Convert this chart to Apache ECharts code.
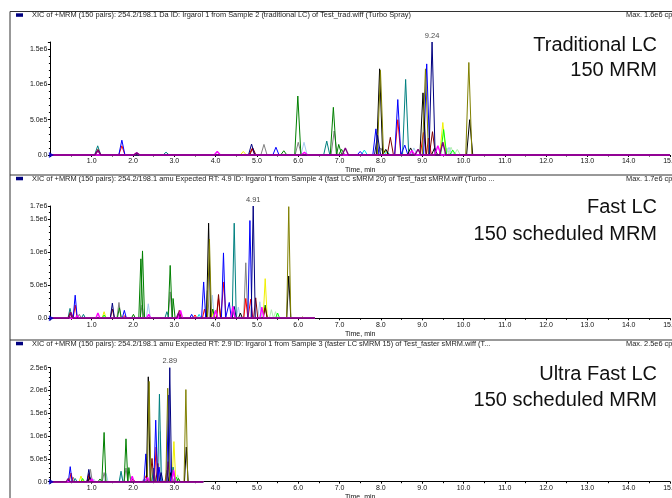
<!DOCTYPE html>
<html><head><meta charset="utf-8">
<script src="https://cdn.jsdelivr.net/npm/echarts@6/dist/echarts.min.js"></script>
<style>html,body{margin:0;padding:0;background:#fff}#c{width:672px;height:498px}</style>
</head><body><div id="c"></div>
<script>
// ---------- DATA (retention time, min ; intensity, cps) ----------
const xTicks = [0,1,2,3,4,5,6,7,8,9,10,11,12,13,14,15];
const panelTitles = [
  "XIC of +MRM (150 pairs): 254.2/198.1 Da ID: Irgarol 1 from Sample 2 (traditional LC) of Test_trad.wiff (Turbo Spray)",
  "XIC of +MRM (150 pairs): 254.2/198.1 amu Expected RT: 4.9 ID: Irgarol 1 from Sample 4 (fast LC sMRM 20) of Test_fast sMRM.wiff (Turbo ...",
  "XIC of +MRM (150 pairs): 254.2/198.1 amu Expected RT: 2.9 ID: Irgarol 1 from Sample 3 (faster LC sMRM 15) of Test_faster sMRM.wiff (T..."
];
const panelMaxText = ["Max. 1.6e6 cps.", "Max. 1.7e6 cps.", "Max. 2.5e6 cps."];
const panelLabels = ["Traditional LC\n150 MRM", "Fast LC\n150 scheduled MRM", "Ultra Fast LC\n150 scheduled MRM"];
const yMax = [1.6e6, 1.7e6, 2.5e6];
const apexRT = [9.24, 4.91, 2.89];
const runEnd = [15, 6.4, 3.7];

// Traditional LC
const trad_blue = [[1.73,2.1e5],[5.46,1.1e5],[7.5,5e4],[7.88,3.7e5],[8.41,7.85e5],[8.58,1.4e5],[9.11,1.29e6]];
const trad_navy = [[4.87,1.55e5],[7.92,2.8e5],[9.24,1.6e6]];
const trad_red = [[1.73,1.3e5],[4.88,9e4],[8.41,5e5],[9.03,3.2e5],[9.15,2.4e5]];
const trad_maroon = [[1.15,8e4],[4.9,1.0e5],[8.23,2.5e5],[9.25,3.3e5]];
const trad_green = [[5.65,6e4],[5.99,8.35e5],[6.85,6.75e5],[6.98,1.5e5],[7.05,8e4]];
const trad_teal = [[1.145,1.3e5],[2.8,4e4],[6.69,1.97e5],[8.6,1.07e6]];
const trad_black = [[7.97,1.22e6],[8.12,8e4],[8.72,1e5],[9.02,8.8e5],[9.3,1e5],[10.15,5e5]];
const trad_olive = [[7.99,1.2e6],[9.08,1.22e6],[10.13,1.31e6]];
const trad_gray = [[5.17,1.5e5],[6.0,1.8e5],[6.87,3.4e5],[8.0,1.0e5]];
const trad_lightblue = [[6.14,1.8e5],[8.8,1e5],[9.65,1.1e5]];
const trad_yellow = [[4.67,5e4],[8.1,6e4],[9.5,4.6e5]];
const trad_lime = [[9.52,3.6e5],[9.74,7e4]];
const trad_cyan = [[7.6,7e4],[8.15,5e4]];
const trad_lightgreen = [[9.6,1.0e5],[9.7,1.1e5],[9.85,8e4]];
const trad_magenta = [[2.09,3e4],[4.04,5e4],[6.15,4e4],[8.75,6e4],[9.38,1.3e5]];
const trad_purple = [[1.15,6e4],[2.09,3e4],[7.14,1.0e5],[8.9,8e4],[9.5,1.8e5]];

// Fast LC
const fast_blue = [[0.6,3.5e5],[1.79,1.2e5],[3.42,6e4],[3.71,5.5e5],[4.19,9.9e5],[4.33,2.4e5],[4.83,1.48e6]];
const fast_navy = [[1.5,2.3e5],[4.45,1.8e5],[4.91,1.7e6]];
const fast_red = [[0.6,2e5],[1.8,4e4],[3.5,5e4],[3.73,1.4e5],[4.07,3e5],[4.2,5.5e5],[4.73,3e5],[4.85,2.9e5]];
const fast_maroon = [[0.48,9e4],[1.5,1.4e5],[3.12,1.2e5],[4.07,3.6e5],[4.97,3.1e5],[5.2,1.6e5]];
const fast_green = [[1.67,1.6e5],[2.01,6e4],[2.19,9e5],[2.23,1.02e6],[2.9,8e5],[2.97,3e5],[3.93,1.4e5],[5.2,2e5]];
const fast_teal = [[0.475,1.5e5],[0.8,6e4],[2.82,1e5],[4.45,1.44e6]];
const fast_black = [[3.83,1.44e6],[4.6,8e4],[5.77,6.4e5]];
const fast_olive = [[3.85,1.2e6],[5.77,1.69e6],[6.1,2e4]];
const fast_gray = [[0.7,6e4],[1.66,2.4e5],[2.22,2e5],[2.9,4e5],[3.8,4.2e5],[4.42,1.5e5],[4.73,8.4e5]];
const fast_lightblue = [[2.37,2.2e5],[3.92,3.5e5],[4.55,1.7e5],[5.07,2.5e5]];
const fast_yellow = [[1.3,1e5],[3.95,1.2e5],[5.2,6e5]];
const fast_lime = [[1.3,5e4],[5.5,8e4]];
const fast_cyan = [[3.6,6e4],[4.0,1.2e5]];
const fast_lightgreen = [[5.35,1.3e5],[5.45,1e5]];
const fast_magenta = [[0.65,4e4],[1.15,8e4],[2.38,6e4],[3.15,1.2e5],[4.0,1.2e5],[4.42,1.8e5],[5.12,1.7e5]];
const fast_purple = [[0.5,9e4],[3.1,8e4]];

// Ultra Fast LC
const ultra_blue = [[0.48,3.3e5],[2.31,6.1e5],[2.55,1.35e6],[2.63,3.2e5],[2.86,1.9e6]];
const ultra_navy = [[0.93,2.7e5],[2.68,2e5],[2.89,2.5e6]];
const ultra_red = [[0.5,1.9e5],[0.93,1.3e5],[2.2,3e4],[2.33,1.5e5],[2.56,7.6e5],[2.85,4.4e5]];
const ultra_maroon = [[0.93,1.8e5],[2.0,6e4],[2.46,5.1e5],[2.6,4e5],[2.82,2.5e5]];
const ultra_green = [[1.2,6e4],[1.3,1.08e6],[1.83,9.4e5],[1.9,3.1e5],[3.1,7e4]];
const ultra_teal = [[0.6,7e4],[1.71,2.3e5],[2.5,3e5],[2.64,1.92e6],[2.97,3.2e5]];
const ultra_black = [[0.95,1e5],[2.37,2.3e6],[2.9,2e5],[3.29,7.6e5]];
const ultra_olive = [[2.39,2.2e6],[2.84,2.05e6],[3.28,2.02e6],[3.55,3e4]];
const ultra_gray = [[0.55,1e5],[0.97,2.7e5],[1.3,2e5],[1.83,3e5],[2.5,3e5],[2.95,1e5]];
const ultra_lightblue = [[1.05,6e4],[1.35,1.8e5],[1.72,1.5e5],[2.25,5e4],[2.66,1.1e6]];
const ultra_yellow = [[0.74,1.25e5],[2.99,8.8e5]];
const ultra_lime = [[0.78,7e4],[3.05,1e5]];
const ultra_cyan = [[2.3,5e4]];
const ultra_lightgreen = [[3.08,1.5e5]];
const ultra_magenta = [[1.0,6e4],[1.3,4e4],[1.98,1.2e5],[2.35,1e5],[2.98,2.6e5]];
const ultra_purple = [[0.43,7e4]];

// ---------- STYLE ----------
const colorOf = {
  lightgreen:'#b0f0b0', lightblue:'#a6caf0', gray:'#808080', yellow:'#f0f000', lime:'#00ff00', cyan:'#00e0e0',
  green:'#008000', teal:'#008080', red:'#ff0000', maroon:'#800000', blue:'#0000ff', black:'#000000',
  olive:'#808000', navy:'#000080', magenta:'#ff00ff', purple:'#800080'
};
const order = ['lightgreen','lightblue','gray','yellow','lime','cyan','green','teal','red','maroon','blue','black','olive','navy','magenta','purple'];
const panels = [
  {lightgreen:trad_lightgreen, lightblue:trad_lightblue, gray:trad_gray, yellow:trad_yellow, lime:trad_lime, cyan:trad_cyan, green:trad_green, teal:trad_teal, red:trad_red, maroon:trad_maroon, blue:trad_blue, black:trad_black, olive:trad_olive, navy:trad_navy, magenta:trad_magenta, purple:trad_purple},
  {lightgreen:fast_lightgreen, lightblue:fast_lightblue, gray:fast_gray, yellow:fast_yellow, lime:fast_lime, cyan:fast_cyan, green:fast_green, teal:fast_teal, red:fast_red, maroon:fast_maroon, blue:fast_blue, black:fast_black, olive:fast_olive, navy:fast_navy, magenta:fast_magenta, purple:fast_purple},
  {lightgreen:ultra_lightgreen, lightblue:ultra_lightblue, gray:ultra_gray, yellow:ultra_yellow, lime:ultra_lime, cyan:ultra_cyan, green:ultra_green, teal:ultra_teal, red:ultra_red, maroon:ultra_maroon, blue:ultra_blue, black:ultra_black, olive:ultra_olive, navy:ultra_navy, magenta:ultra_magenta, purple:ultra_purple}
];
const halfWidth = [0.075, 0.05, 0.045];
const grids = [{top:42, h:113}, {top:206, h:112.3}, {top:367.7, h:114}];
const sepY = [11.5, 175, 340];
const FONT = '"Liberation Sans", Arial, sans-serif';

function peakLine(peaks, hw, end) {
  const s = peaks.slice().sort((a,b)=>a[0]-b[0]);
  const pts = [[0,0]];
  s.forEach(p => { pts.push([p[0]-hw,0],[p[0],p[1]],[p[0]+hw,0]); });
  pts.push([end,0]);
  return pts;
}
function yFmt(v, max, hideMax) {
  if (v === 0) return '0.0';
  if (hideMax && Math.abs(v-max) < 1) return '';
  const e = Math.floor(Math.log10(v) + 1e-9);
  return (v/Math.pow(10,e)).toFixed(1) + 'e' + e;
}

const grid = [], xAxis = [], yAxis = [], series = [], graphic = [];
grids.forEach((g,i) => {
  grid.push({left:50.4, right:2, top:g.top, height:g.h, containLabel:false, outerBoundsMode:'none'});
  xAxis.push({
    type:'value', gridIndex:i, min:xTicks[0], max:xTicks[xTicks.length-1], interval:1,
    name:'Time, min', nameLocation:'middle', nameGap:12,
    nameTextStyle:{fontFamily:FONT, fontSize:7, color:'#111'},
    axisLine:{lineStyle:{color:'#000', width:1}},
    axisTick:{show:true, length:2, lineStyle:{color:'#000'}},
    minorTick:{show:true, splitNumber:2, length:1.5, lineStyle:{color:'#000'}},
    splitLine:{show:false},
    axisLabel:{fontFamily:FONT, fontSize:7, color:'#111', margin:3, showMaxLabel:true, hideOverlap:false,
      formatter: v => v === 0 ? '' : v.toFixed(1)}
  });
  yAxis.push({
    type:'value', gridIndex:i, min:0, max:yMax[i], interval:5e5,
    axisLine:{show:true, lineStyle:{color:'#000', width:1}},
    axisTick:{show:true, length:2.5, lineStyle:{color:'#000'}},
    minorTick:{show:true, splitNumber:5, length:1.5, lineStyle:{color:'#000'}},
    splitLine:{show:false},
    axisLabel:{fontFamily:FONT, fontSize:7, color:'#111', margin:3,
      formatter: v => yFmt(v, yMax[i], i === 0)}
  });
  order.forEach(c => {
    const base = (c === 'magenta' || c === 'purple');
    series.push({
      type:'line', xAxisIndex:i, yAxisIndex:i, data: peakLine(panels[i][c], halfWidth[i], runEnd[i]),
      showSymbol:false, symbol:'none', silent:true, clip:false,
      lineStyle:{color:colorOf[c], width: base ? 1.4 : 1}, emphasis:{disabled:true}, z:2
    });
  });
  // apex label from the navy series
  const apex = panels[i].navy.find(p => p[0] === apexRT[i]);
  series.push({
    type:'scatter', xAxisIndex:i, yAxisIndex:i, data:[apex], symbolSize:1, silent:true,
    itemStyle:{color:'rgba(0,0,0,0)'},
    label:{show:true, position:'top', distance:2, formatter: apexRT[i].toFixed(2),
      fontFamily:FONT, fontSize:7.5, color:'#111'}, z:5
  });
  // origin marker
  series.push({
    type:'scatter', xAxisIndex:i, yAxisIndex:i, data:[[0,0]], symbol:'triangle', symbolRotate:-90,
    symbolSize:[6,5], symbolOffset:[1,0], silent:true, itemStyle:{color:'#0000cc'}, z:6
  });
  // frame line + header
  graphic.push({type:'line', shape:{x1:10, y1:sepY[i], x2:672, y2:sepY[i]}, style:{stroke:'#333', lineWidth:1}, silent:true});
  graphic.push({type:'rect', shape:{x:16, y:sepY[i]+1.8, width:7, height:3.5}, style:{fill:'#000080'}, silent:true});
  graphic.push({type:'text', left:32, top:sepY[i]+0.2, style:{text:panelTitles[i], font:'7.4px '+FONT, fill:'#222'}, silent:true});
  graphic.push({type:'text', left:626, top:sepY[i]+0.2, style:{text:panelMaxText[i], font:'7.4px '+FONT, fill:'#222'}, silent:true});
});
graphic.push({type:'line', shape:{x1:10, y1:11.5, x2:10, y2:498}, style:{stroke:'#333', lineWidth:1}, silent:true});
const labelTop = [32.5, 193.5, 361];
const labelLH = [25, 27, 26];
panelLabels.forEach((t,i) => {
  graphic.push({type:'text', right:15, top:labelTop[i], z:10,
    style:{text:t, font:'20px '+FONT, fill:'#111', textAlign:'right', lineHeight:labelLH[i]}, silent:true});
});

const chart = echarts.init(document.getElementById('c'), null, {renderer:'canvas'});
chart.setOption({animation:false, backgroundColor:'#fff', grid, xAxis, yAxis, series, graphic});
</script></body></html>
